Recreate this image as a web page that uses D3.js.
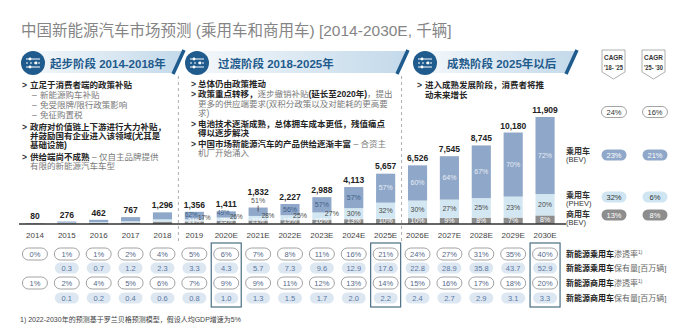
<!DOCTYPE html>
<html>
<head>
<meta charset="utf-8">
<script src="https://cdn.jsdelivr.net/npm/d3@7"></script>
<style>
  body { margin: 0; background: #fff; }
  svg { display: block; font-family: "Liberation Sans", "Noto Sans CJK SC", sans-serif; }
</style>
</head>
<body>
<div id="chart"></div>
<script>
// Data
const years = ["2014", "2015", "2016", "2017", "2018", "2019", "2020E", "2021E", "2022E",
  "2023E", "2024E", "2025E", "2026E", "2027E", "2028E", "2029E", "2030E"];
const totals = [80, 276, 462, 767, 1296, 1356, 1411, 1832, 2227, 2988, 4113, 5657, 6526, 7545, 8745, 10180, 11909];
const bevShare = [40, 45, 55, 60, 60, 62, 49, 51, 56, 57, 57, 57, 60, 64, 67, 70, 72];
const phevShare = [20, 25, 20, 20, 20, 17, 26, 28, 25, 27, 30, 32, 30, 27, 25, 23, 20];
const comShare = [40, 30, 25, 20, 20, 21, 25, 21, 19, 16, 13, 10, 10, 9, 8, 7, 8];
const penPassenger = ["0%", "1%", "1%", "2%", "4%", "5%", "6%", "7%", "8%", "11%", "16%", "21%", "24%", "27%", "31%", "35%", "40%"];
const stockPassenger = [null, 0.3, 0.7, 1.2, 2.3, 3.3, 4.3, 5.7, 7.3, 9.6, 12.9, 17.6, 22.8, 28.9, 35.8, 43.7, 52.9];
const penCommercial = ["1%", "2%", "4%", "5%", "6%", "7%", "9%", "9%", "11%", "12%", "13%", "14%", "15%", "16%", "17%", "18%", "20%"];
const stockCommercial = [null, 0.1, 0.2, 0.4, 0.6, 0.8, 1.0, 1.3, 1.5, 1.7, 2.0, 2.2, 2.4, 2.7, 2.9, 3.1, 3.3];
const cagr1825 = ["24%", "23%", "32%", "13%"];
const cagr2530 = ["16%", "21%", "6%", "8%"];
const highlightYears = ["2020E", "2025E", "2030E"];
const stageTitles = ["起步阶段 2014-2018年", "过渡阶段 2018-2025年", "成熟阶段 2025年以后"];

const W = 700, H = 329;
const baseY = 224;

const svg = d3.select("#chart").append("svg")
  .attr("width", W).attr("height", H);

// Colours
const cBEV = "#8fa7c8", cPHEV = "#d3e7f2", cCOM = "#8d8d8d", cDark = "#1f5b8c";

// Scales
const x = d3.scaleBand().domain(years).range([19, 561]).paddingInner(0.4).paddingOuter(0.2);
const xc = d => x(d) + x.bandwidth() / 2;
const y = d3.scaleLinear().domain([0, 11909]).range([baseY, 117]);

// Title
svg.append("text")
  .attr("x", 21).attr("y", 36)
  .attr("font-size", 15.5).attr("fill", "#858585")
  .text("中国新能源汽车市场预测 (乘用车和商用车) [2014-2030E, 千辆]");

// Stage header bands
const defs = svg.append("defs");
const grad = defs.append("linearGradient").attr("id", "band");
grad.append("stop").attr("offset", "0%").attr("stop-color", "#f4f8fb");
grad.append("stop").attr("offset", "100%").attr("stop-color", "#c3d9ea");

const bands = [
  {x0: 28, x1: 178, icon: 33, tx: 50},
  {x0: 192, x1: 402, icon: 197, tx: 218},
  {x0: 420, x1: 571, icon: 425, tx: 447}
];
bands.forEach((b, i) => {
  svg.append("path")
    .attr("d", `M${b.x0},51 L${b.x1 + 5},51 L${b.x1 - 4},73 L${b.x0},73 Z`)
    .attr("fill", "url(#band)");
  svg.append("line")
    .attr("x1", b.x1 + 6).attr("y1", 50).attr("x2", b.x1 - 5).attr("y2", 74)
    .attr("stroke", cDark).attr("stroke-width", 3.5);
  const ic = svg.append("g").attr("transform", `translate(${b.icon},63)`);
  ic.append("circle").attr("r", 12).attr("fill", cDark);
  [-4, 0, 4].forEach((dy, k) => {
    ic.append("line").attr("x1", -7).attr("x2", 7).attr("y1", dy).attr("y2", dy)
      .attr("stroke", "#fff").attr("stroke-width", 1).attr("stroke-dasharray", k === 1 ? "2,2" : null);
    ic.append("circle").attr("cx", k === 1 ? 3 : -3).attr("cy", dy).attr("r", 1.4).attr("fill", "#fff");
  });
  svg.append("text")
    .attr("x", b.tx).attr("y", 67.5)
    .attr("font-size", 11.5).attr("font-weight", "bold").attr("fill", cDark)
    .text(stageTitles[i]);
});

// CAGR tags
[["'18- '25", 602], ["'25- '30", 642]].forEach(([lab, tx]) => {
  svg.append("path")
    .attr("d", `M${tx},50 L${tx + 23},50 L${tx + 23},72 L${tx + 11.5},79 L${tx},72 Z`)
    .attr("fill", "#fff").attr("stroke", "#9a9a9a").attr("stroke-width", 0.8);
  svg.append("text").attr("x", tx + 11.5).attr("y", 60).attr("text-anchor", "middle")
    .attr("font-size", 7.5).attr("font-weight", "bold").attr("fill", "#333")
    .attr("textLength", 19).attr("lengthAdjust", "spacingAndGlyphs").text("CAGR");
  svg.append("text").attr("x", tx + 11.5).attr("y", 69.5).attr("text-anchor", "middle")
    .attr("font-size", 7.5).attr("font-weight", "bold").attr("fill", "#333")
    .attr("textLength", 19).attr("lengthAdjust", "spacingAndGlyphs").text(lab);
});

// Bullet notes
const notes = [
  {mx: 22, tx: 30, lines: [
    {y: 88, m: ">", s: [["立足于消费者端的政策补贴", 1]]},
    {y: 97.5, m: "–", sub: true, s: [["新能源购车补贴", 0]]},
    {y: 108, m: "–", sub: true, s: [["免受限牌/限行政策影响", 0]]},
    {y: 118, m: "–", sub: true, s: [["免征购置税", 0]]},
    {y: 130, m: ">", s: [["政府对价值链上下游进行大力补贴，", 1]]},
    {y: 138.5, s: [["并鼓励国有企业进入该领域(尤其是", 1]]},
    {y: 147.5, s: [["基础设施)", 1]]},
    {y: 160, m: ">", s: [["供给端尚不成熟", 1], [" – 仅自主品牌提供", 0]]},
    {y: 169, s: [["有限的新能源汽车车型", 0]]}
  ]},
  {mx: 191, tx: 198, lines: [
    {y: 87, m: ">", s: [["总体仍由政策推动", 1]]},
    {y: 97, m: ">", s: [["政策重点转移，", 1], ["逐步撤销补贴", 0], ["(延长至2020年)", 1], ["，提出", 0]]},
    {y: 106.5, s: [["更多的供应端要求(双积分政策以及对能耗的更高要", 0]]},
    {y: 116, s: [["求)", 0]]},
    {y: 126.5, m: ">", s: [["电池技术逐渐成熟，总体拥车成本更低，残值痛点", 1]]},
    {y: 135.5, s: [["得以逐步解决", 1]]},
    {y: 146.5, m: ">", s: [["中国市场新能源汽车的产品供给逐渐丰富", 1], [" – 合资主", 0]]},
    {y: 156, s: [["机厂开始涌入", 0]]}
  ]},
  {mx: 417, tx: 425, lines: [
    {y: 88, m: ">", s: [["进入成熟发展阶段，消费者将推", 1]]},
    {y: 98, s: [["动未来增长", 1]]}
  ]}
];
notes.forEach(col => {
  col.lines.forEach(l => {
    const tx = col.tx + (l.sub ? 10 : 0);
    if (l.m) {
      svg.append("text").attr("x", l.sub ? col.tx + 2 : col.mx).attr("y", l.y)
        .attr("font-size", 8.5).attr("font-weight", l.sub ? "normal" : "bold")
        .attr("fill", l.sub ? "#777" : "#333").text(l.m);
    }
    const t = svg.append("text").attr("x", tx).attr("y", l.y).attr("font-size", 8.5);
    l.s.forEach(([str, bold]) => {
      t.append("tspan").attr("font-weight", bold ? "bold" : "normal")
        .attr("fill", bold ? "#262626" : "#7a7a7a").text(str);
    });
  });
});

// Dashed stage separators
[(xc("2018") + xc("2019")) / 2, (xc("2025E") + xc("2026E")) / 2].forEach(dx => {
  svg.append("line").attr("x1", dx).attr("x2", dx).attr("y1", 76).attr("y2", 244)
    .attr("stroke", "#999").attr("stroke-width", 0.8).attr("stroke-dasharray", "3,3");
});

// Stacked bars
const table = years.map((yr, i) => ({
  year: yr,
  com: totals[i] * comShare[i] / 100,
  phev: totals[i] * phevShare[i] / 100,
  bev: totals[i] * bevShare[i] / 100
}));
const keys = ["com", "phev", "bev"];
const colors = {com: cCOM, phev: cPHEV, bev: cBEV};
const series = d3.stack().keys(keys)(table);

svg.append("g").selectAll("g")
  .data(series).join("g")
  .attr("fill", s => colors[s.key])
  .selectAll("rect")
  .data(s => s).join("rect")
  .attr("x", d => x(d.data.year))
  .attr("width", x.bandwidth())
  .attr("y", d => y(d[1]))
  .attr("height", d => y(d[0]) - y(d[1]));

// Baseline
svg.append("line").attr("x1", 19).attr("x2", 566).attr("y1", baseY).attr("y2", baseY)
  .attr("stroke", "#333").attr("stroke-width", 1.5);

// Share labels (2019 onward)
const lab = svg.append("g").attr("text-anchor", "middle");
years.forEach((yr, i) => {
  if (i < 5) return;
  const cx = xc(yr);
  const c0 = y(0), c1 = y(table[i].com), p1 = y(table[i].com + table[i].phev), b1 = y(totals[i]);
  const small = (c0 - b1) < 20;
  const fs = small ? 6.3 : 7;
  // commercial
  lab.append("text").attr("x", cx).attr("y", Math.min((c0 + c1) / 2, 220.5) + 2.5)
    .attr("font-size", fs).attr("fill", "#fff").text(comShare[i] + "%");
  // PHEV
  const ph = c1 - p1;
  lab.append("text").attr("x", cx + (ph < 9 ? 10 : 0)).attr("y", (c1 + p1) / 2 + 2.5 + (ph < 9 ? -2.5 : 0))
    .attr("font-size", fs).attr("fill", "#4a4a4a").text(phevShare[i] + "%");
  // BEV
  if (yr === "2021E") {
    lab.append("text").attr("x", cx).attr("y", b1 - 4.5).attr("font-size", 7)
      .attr("fill", "#555").text(bevShare[i] + "%");
    svg.append("line").attr("x1", cx).attr("x2", cx).attr("y1", b1 - 2).attr("y2", b1 + 4)
      .attr("stroke", "#444").attr("stroke-width", 0.8);
  } else {
    const bh = p1 - b1;
    lab.append("text").attr("x", cx - (bh < 9 ? 3 : 0)).attr("y", (p1 + b1) / 2 + 2.5 - (bh < 9 ? 1.5 : 0))
      .attr("font-size", fs).attr("fill", i >= 11 ? "#e8eef6" : "#3e5d88").text(bevShare[i] + "%");
  }
});

// Total labels
svg.append("g").selectAll("text")
  .data(years).join("text")
  .attr("x", d => xc(d))
  .attr("y", (d, i) => y(totals[i]) - (d === "2021E" ? 13 : 4))
  .attr("text-anchor", "middle").attr("font-size", 8.5).attr("font-weight", "bold").attr("fill", "#222")
  .text((d, i) => d3.format(",")(totals[i]));

// Year axis labels
svg.append("g").selectAll("text")
  .data(years).join("text")
  .attr("x", d => xc(d)).attr("y", 238)
  .attr("text-anchor", "middle").attr("font-size", 8).attr("fill", "#444")
  .text(d => d);

// Pill helper
function pill(g, cx, cy, w, h, fill, stroke, txt, color, size) {
  g.append("rect").attr("x", cx - w / 2).attr("y", cy - h / 2).attr("width", w).attr("height", h)
    .attr("rx", h / 2).attr("fill", fill).attr("stroke", stroke || "none").attr("stroke-width", 0.8);
  g.append("text").attr("x", cx).attr("y", cy + 2.6).attr("text-anchor", "middle")
    .attr("font-size", size || 7.5).attr("fill", color).text(txt);
}

// Bottom rows
const rows = svg.append("g");
years.forEach((yr, i) => {
  const cx = xc(yr);
  pill(rows, cx, 254, 25, 12, "#fff", "#8c8c8c", penPassenger[i], "#55698a");
  if (stockPassenger[i] !== null)
    pill(rows, cx, 268, 24, 11, "#dde7f2", null, d3.format(".1f")(stockPassenger[i]), "#5a78a3");
  pill(rows, cx, 283, 25, 12, "#fff", "#8c8c8c", penCommercial[i], "#55698a");
  if (stockCommercial[i] !== null)
    pill(rows, cx, 298, 24, 11, "#dde7f2", null, d3.format(".1f")(stockCommercial[i]), "#5a78a3");
});

// Highlight boxes
highlightYears.forEach(yr => {
  svg.append("rect").attr("x", xc(yr) - 15).attr("y", 243).attr("width", 30).attr("height", 64)
    .attr("fill", "none").attr("stroke", "#4a6f84").attr("stroke-width", 1.2);
});

// Row labels on the right
const rowLabels = [
  [254, "新能源乘用车", "渗透率", "1)"],
  [268, "新能源乘用车", "保有量[百万辆]", ""],
  [283, "新能源商用车", "渗透率", "1)"],
  [298, "新能源商用车", "保有量[百万辆]", ""]
];
rowLabels.forEach(([ry, a, b, sup]) => {
  const t = svg.append("text").attr("x", 566).attr("y", ry + 3).attr("font-size", 8);
  t.append("tspan").attr("font-weight", "bold").attr("fill", "#222").text(a);
  t.append("tspan").attr("fill", "#666").text(b);
  if (sup) t.append("tspan").attr("font-size", 5).attr("dy", -3).attr("fill", "#666").text(sup);
});

// Legend labels for segments
const legend = [
  [154, "乘用车", "(BEV)"],
  [198, "乘用车", "(PHEV)"],
  [217, "商用车", "(BEV)"]
];
legend.forEach(([ly, a, b]) => {
  svg.append("text").attr("x", 566).attr("y", ly).attr("font-size", 8).attr("font-weight", "bold")
    .attr("fill", "#333").text(a);
  svg.append("text").attr("x", 566).attr("y", ly + 8).attr("font-size", 7.5)
    .attr("fill", "#333").text(b);
});

// CAGR pills
const cagrRows = [
  {y: 112, fill: "#fff", stroke: "#8c8c8c", color: "#333"},
  {y: 155, fill: cBEV, stroke: null, color: "#fff"},
  {y: 197, fill: "#cfe6f2", stroke: null, color: "#333"},
  {y: 215, fill: cCOM, stroke: null, color: "#fff"}
];
cagrRows.forEach((r, i) => {
  pill(svg, 614, r.y, 25, 11, r.fill, r.stroke, cagr1825[i], r.color);
  pill(svg, 655, r.y, 25, 11, r.fill, r.stroke, cagr2530[i], r.color);
});

// Footnote
svg.append("text").attr("x", 20).attr("y", 322).attr("font-size", 7).attr("fill", "#444")
  .text("1) 2022-2030年的预测基于罗兰贝格预测模型，假设人均GDP增速为5%");
</script>
</body>
</html>
